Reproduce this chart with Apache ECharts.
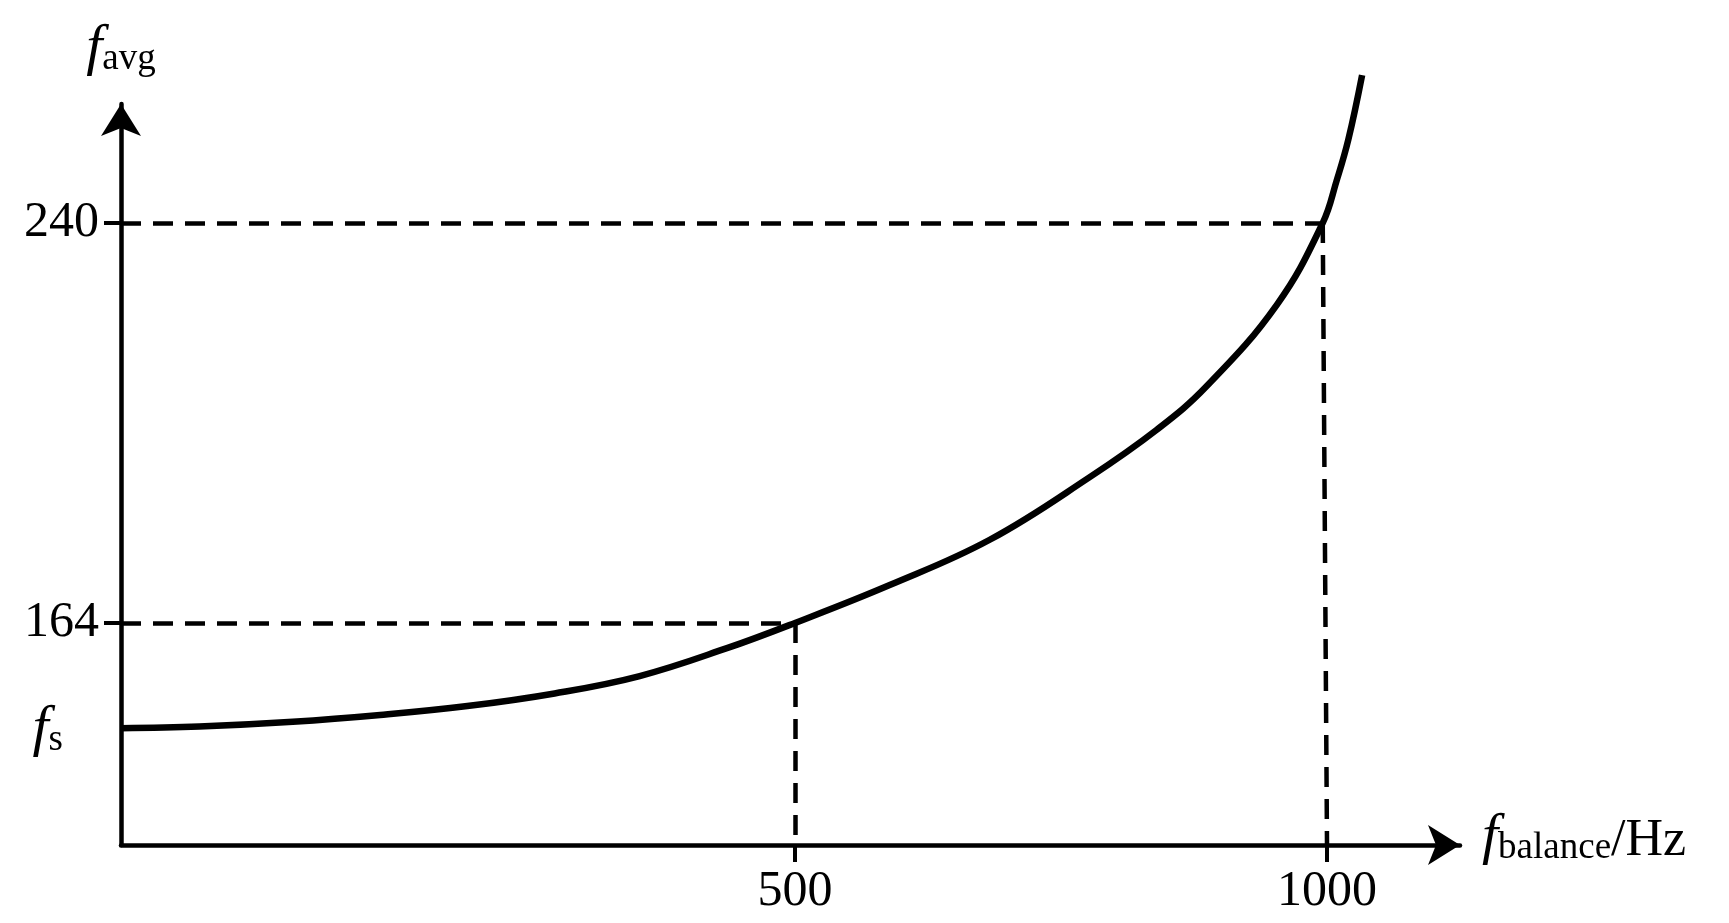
<!DOCTYPE html>
<html>
<head>
<meta charset="utf-8">
<script src="https://cdn.jsdelivr.net/npm/echarts@6/dist/echarts.min.js"></script>
<style>
  html, body { margin: 0; padding: 0; background: #fff; }
  #chart { width: 1729px; height: 923px; }
</style>
</head>
<body>
<div id="chart"></div>
<script>
// curve (x in Hz on the drawn axis scale, y = f_avg)
const curveX = [-133.5, -60, 28, 110, 192, 274, 354, 436, 500, 589, 683, 777, 840, 887, 953, 996, 1009, 1020, 1033]
const curveY = [144.0, 144.3, 145.2, 146.5, 148.2, 150.6, 153.9, 159.2, 164, 171.2, 179.8, 191.7, 200.7, 209.0, 224.5, 240, 248.0, 255.8, 268.1]

const xTicks = [500, 1000]
const yTicks = [164, 240]
const fs = 144 // f_s, where the curve starts
const xMin = -133.5
const xMax = 1125
const yMin = 121.8
const yMax = 262.6

const font = "'Liberation Serif', 'Times New Roman', serif"
const dash = [20, 12]

const chart = echarts.init(document.getElementById('chart'))

// helper: dashed guide between two data points
function guide (a, b) {
  return [{ coord: a }, { coord: b }]
}

const bigF = { fontFamily: font, fontStyle: 'italic', fontSize: 58, color: '#000', verticalAlign: 'bottom', lineHeight: 62 }
const sub = { fontFamily: font, fontSize: 37, color: '#000', verticalAlign: 'bottom', lineHeight: 44 }

const option = {
  backgroundColor: '#fff',
  animation: false,
  grid: {
    left: 121,
    right: 269,
    top: 104,
    bottom: 78,
    outerBoundsMode: 'none'
  },
  xAxis: {
    type: 'value',
    min: xMin,
    max: xMax,
    name: '{f|f}{s|balance}{n|/Hz}',
    nameLocation: 'end',
    nameGap: 22,
    nameTextStyle: {
      padding: [0, 0, 18, 0],
      rich: {
        f: bigF,
        s: sub,
        n: { fontFamily: font, fontSize: 52, color: '#000', verticalAlign: 'bottom', lineHeight: 60 }
      }
    },
    axisLine: {
      onZero: false,
      lineStyle: { color: '#000', width: 4.5 },
      symbol: ['none', 'arrow'],
      symbolSize: [30, 32]
    },
    axisTick: {
      customValues: xTicks,
      length: 17,
      lineStyle: { color: '#000', width: 4 }
    },
    axisLabel: {
      customValues: xTicks,
      margin: 22,
      fontFamily: font,
      fontSize: 50,
      color: '#000',
      formatter: v => String(v)
    },
    splitLine: { show: false }
  },
  yAxis: {
    type: 'value',
    min: yMin,
    max: yMax,
    name: '{f|f}{s|avg}',
    nameLocation: 'end',
    nameGap: 26,
    nameTextStyle: {
      rich: { f: bigF, s: sub }
    },
    axisLine: {
      onZero: false,
      lineStyle: { color: '#000', width: 4.5 },
      symbol: ['none', 'arrow'],
      symbolSize: [30, 32]
    },
    axisTick: {
      customValues: yTicks,
      length: 17,
      lineStyle: { color: '#000', width: 4 }
    },
    axisLabel: {
      customValues: [fs].concat(yTicks),
      margin: 22,
      fontFamily: font,
      fontSize: 50,
      color: '#000',
      formatter: function (v) {
        if (v === fs) return '{f|f}{s|s}'
        return String(v)
      },
      rich: {
        f: Object.assign({}, bigF, { padding: [20, 0, 0, 0] }),
        s: Object.assign({}, sub, { padding: [0, 36, 0, 0] })
      }
    },
    splitLine: { show: false }
  },
  series: [
    {
      type: 'line',
      data: curveX.map((x, i) => [x, curveY[i]]),
      smooth: 0.4,
      showSymbol: false,
      clip: false,
      lineStyle: { color: '#000', width: 6.5 },
      markLine: {
        silent: true,
        symbol: ['none', 'none'],
        label: { show: false },
        lineStyle: { color: '#000', width: 4.5, type: dash },
        data: [
          guide([xMin, 240], [996, 240]),
          guide([996, 240], [1000, yMin]),
          guide([xMin, 164], [500, 164]),
          guide([500, 164], [500, yMin])
        ]
      }
    }
  ]
}

chart.setOption(option)
</script>
</body>
</html>
